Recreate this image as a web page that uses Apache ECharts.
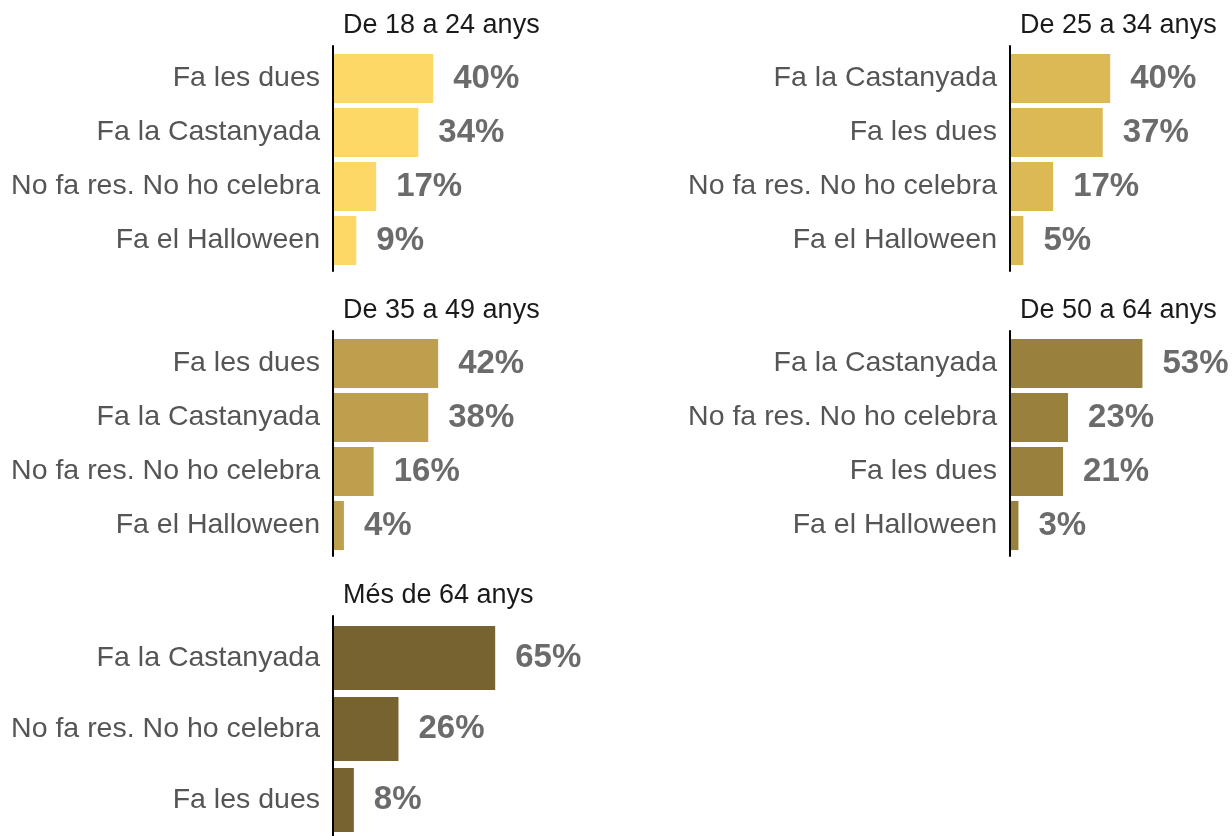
<!DOCTYPE html>
<html><head><meta charset="utf-8">
<script src="https://cdn.jsdelivr.net/npm/echarts@6/dist/echarts.min.js"></script>
<style>html,body{margin:0;padding:0;background:#fff}#c{width:1232px;height:836px}</style>
</head><body><div id="c"></div>
<script>
// ---- data ----
const titles = ['De 18 a 24 anys', 'De 25 a 34 anys', 'De 35 a 49 anys', 'De 50 a 64 anys', 'Més de 64 anys'];
const cats1 = ['Fa les dues', 'Fa la Castanyada', 'No fa res. No ho celebra', 'Fa el Halloween'];
const vals1 = [40, 34, 17, 9];
const cats2 = ['Fa la Castanyada', 'Fa les dues', 'No fa res. No ho celebra', 'Fa el Halloween'];
const vals2 = [40, 37, 17, 5];
const cats3 = ['Fa les dues', 'Fa la Castanyada', 'No fa res. No ho celebra', 'Fa el Halloween'];
const vals3 = [42, 38, 16, 4];
const cats4 = ['Fa la Castanyada', 'No fa res. No ho celebra', 'Fa les dues', 'Fa el Halloween'];
const vals4 = [53, 23, 21, 3];
const cats5 = ['Fa la Castanyada', 'No fa res. No ho celebra', 'Fa les dues'];
const vals5 = [65, 26, 8];

const panelCats = [cats1, cats2, cats3, cats4, cats5];
const panelVals = [vals1, vals2, vals3, vals4, vals5];

// ---- layout / style ----
const colors = ['#FDD866', '#DDB956', '#BE9F4D', '#9A803D', '#776330'];
const layout = [
  {left: 334, axLeft: 333, top: 51.5, h: 216, axTop: 46, axH: 225, gap: '9%'},
  {left: 1011, axLeft: 1010, top: 51.5, h: 216, axTop: 46, axH: 225, gap: '9%'},
  {left: 334, axLeft: 333, top: 336.5, h: 216, axTop: 331, axH: 225, gap: '9%'},
  {left: 1011, axLeft: 1010, top: 336.5, h: 216, axTop: 331, axH: 225, gap: '9%'},
  {left: 334, axLeft: 333, top: 622.5, h: 213, axTop: 616, axH: 220, gap: '10%'}
];
const GRID_W = 200;
const X_MAX = GRID_W / 2.48;
const FONT = '"Liberation Sans", Arial, sans-serif';

const grid = [], xAxis = [], yAxis = [], series = [], title = [];
layout.forEach((L, i) => {
  grid.push({left: L.left, top: L.top, width: GRID_W, height: L.h});
  xAxis.push({type: 'value', gridIndex: 2 * i, min: 0, max: X_MAX, show: false});
  yAxis.push({
    type: 'category', gridIndex: 2 * i, data: panelCats[i], inverse: true,
    axisLine: {show: false}, axisTick: {show: false}, splitLine: {show: false},
    axisLabel: {color: '#555555', fontSize: 28.5, fontFamily: FONT, margin: 14, padding: [4, 0, 0, 0]}
  });
  grid.push({left: L.axLeft, top: L.axTop, width: GRID_W, height: L.axH});
  xAxis.push({type: 'value', gridIndex: 2 * i + 1, min: 0, max: 1, show: false});
  yAxis.push({
    type: 'value', gridIndex: 2 * i + 1, min: 0, max: 1,
    axisLine: {show: true, lineStyle: {color: '#000', width: 2}},
    axisTick: {show: false}, axisLabel: {show: false}, splitLine: {show: false}
  });
  series.push({
    type: 'bar', xAxisIndex: 2 * i, yAxisIndex: 2 * i, data: panelVals[i],
    barCategoryGap: L.gap, itemStyle: {color: colors[i]}, silent: true, z: 1,
    label: {
      show: true, position: 'right', distance: 20, formatter: '{c}%', padding: [4, 0, 0, 0],
      color: '#6B6B6B', fontSize: 33, fontWeight: 'bold', fontFamily: FONT
    }
  });
  title.push({
    text: titles[i], left: L.axLeft + 10, top: L.axTop - 34, padding: 0,
    textStyle: {color: '#1A1A1A', fontSize: 27, fontWeight: 'normal', fontFamily: FONT}
  });
});

const chart = echarts.init(document.getElementById('c'), null, {renderer: 'canvas'});
chart.setOption({animation: false, backgroundColor: '#fff', title, grid, xAxis, yAxis, series});
</script>
</body></html>
